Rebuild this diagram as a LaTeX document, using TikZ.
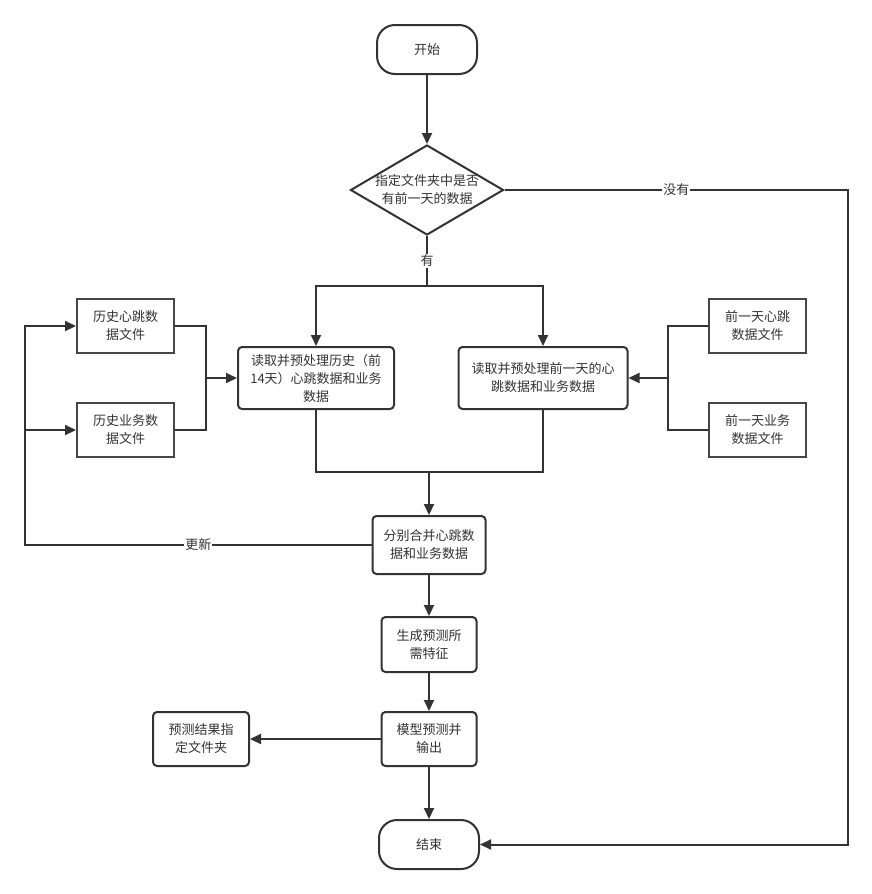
\documentclass[tikz,border=0pt]{standalone}
\usepackage{fontspec}
\newfontfamily\cjk{Noto Sans CJK SC}
\usetikzlibrary{arrows.meta,shapes.geometric}
\definecolor{ink}{HTML}{333333}
\begin{document}
\begin{tikzpicture}[x=1pt,y=-1pt,
  every node/.style={font=\cjk\fontsize{13}{18}\selectfont, text=ink, align=center, inner sep=0pt},
  line/.style={draw=ink, line width=2pt},
  arr/.style={line, -{Triangle[length=11pt,width=10pt]}},
  term/.style={draw=ink, line width=2pt, rounded corners=18pt, minimum width=100pt, minimum height=49pt},
  proc/.style={draw=ink, line width=2pt, rounded corners=4pt},
  filebox/.style={draw=ink!90, line width=2pt, minimum width=97pt, minimum height=54pt},
  decision/.style={draw=ink, line width=2pt, shape=diamond, minimum width=153pt, minimum height=90pt},
  lbl/.style={fill=white, inner sep=1pt}]
\fill[white] (0,0) rectangle (872,894);
\useasboundingbox (0,0) rectangle (872,894);

\node[term] (start) at (427,49.5) {开始};
\node[decision] (dec) at (427,190) {};
\node at (dec) {指定文件夹中是否\\有前一天的数据};
\node[proc, minimum width=156pt, minimum height=62pt] (lp) at (316,378) {读取并预处理历史（前\\14天）心跳数据和业务\\数据};
\node[proc, minimum width=169pt, minimum height=62pt] (rp) at (543,378) {读取并预处理前一天的心\\跳数据和业务数据};
\node[filebox] (hh) at (125.5,326) {历史心跳数\\据文件};
\node[filebox] (hb) at (125.5,430) {历史业务数\\据文件};
\node[filebox] (qh) at (757.5,326) {前一天心跳\\数据文件};
\node[filebox] (qb) at (757.5,430) {前一天业务\\数据文件};
\node[proc, minimum width=113pt, minimum height=58pt] (merge) at (429,545) {分别合并心跳数\\据和业务数据};
\node[proc, minimum width=95pt, minimum height=55pt] (feat) at (429,644.5) {生成预测所\\需特征};
\node[proc, minimum width=95pt, minimum height=54pt] (model) at (429,739) {模型预测并\\输出};
\node[proc, minimum width=96pt, minimum height=54pt] (res) at (201,739) {预测结果指\\定文件夹};
\node[term] (end) at (429,844.5) {结束};

\coordinate (split) at (427,286);
\coordinate (ljoin) at (206,378);
\coordinate (rjoin) at (668,378);
\coordinate (mj) at (429,472);
\coordinate (lb) at (25,545);
\coordinate (lt) at (25,326);
\coordinate (lm) at (25,430);
\coordinate (nr) at (848,190);

\draw[arr] (start) -- (dec);
\draw[line] (dec.south) -- node[lbl]{有} (split);
\draw[arr] (split) -| (lp.north);
\draw[arr] (split) -| (rp.north);
\draw[line] (hh.east) -| (ljoin);
\draw[line] (hb.east) -| (ljoin);
\draw[arr] (ljoin) -- (lp.west);
\draw[line] (qh.west) -| (rjoin);
\draw[line] (qb.west) -| (rjoin);
\draw[arr] (rjoin) -- (rp.east);
\draw[line] (lp.south) |- (mj) -| (rp.south);
\draw[arr] (mj) -- (merge.north);
\draw[arr] (merge.west) -- node[lbl]{更新} (lb) -- (lt) -- (hh.west);
\draw[arr] (lm) -- (hb.west);
\draw[arr] (merge) -- (feat);
\draw[arr] (feat) -- (model);
\draw[arr] (model) -- (res);
\draw[arr] (model) -- (end);
\draw[arr] (dec.east) -- node[lbl]{没有} (nr) |- (end.east);
\end{tikzpicture}
\end{document}
